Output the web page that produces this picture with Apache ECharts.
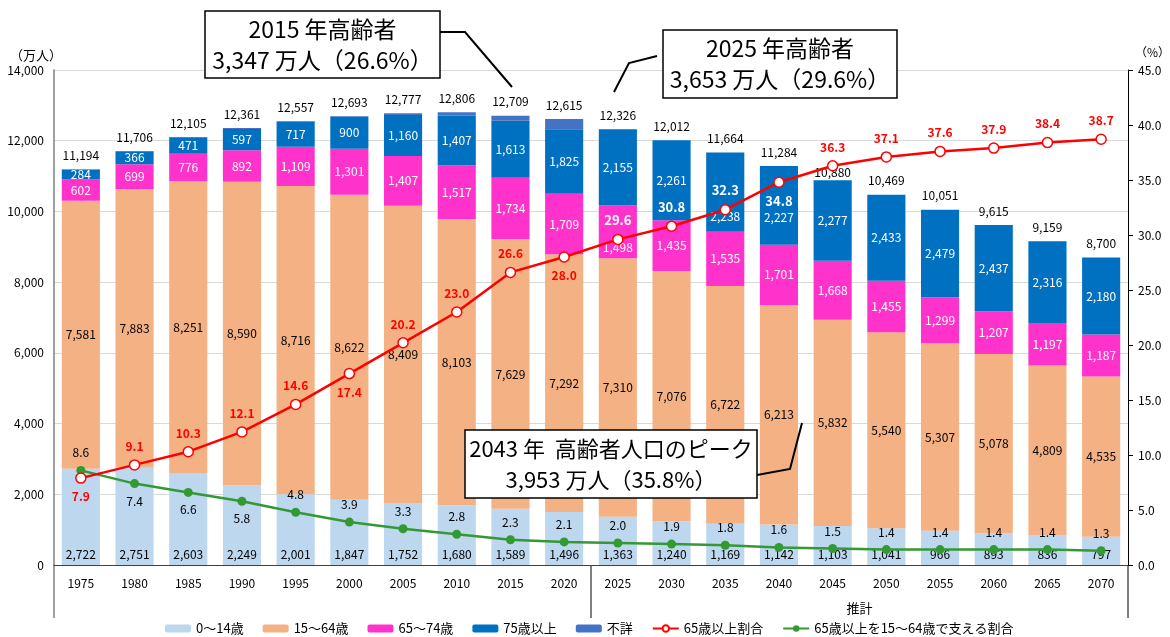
<!DOCTYPE html>
<html>
<head>
<meta charset="utf-8">
<script src="https://cdn.jsdelivr.net/npm/echarts@6/dist/echarts.min.js"></script>
<style>html,body{margin:0;padding:0;background:#fff}#c{width:1170px;height:637px}</style>
</head>
<body>
<div id="c"></div>
<script>
// ---- data ----
const years = ['1975','1980','1985','1990','1995','2000','2005','2010','2015','2020','2025','2030','2035','2040','2045','2050','2055','2060','2065','2070'];
const age0to14 = [2722,2751,2603,2249,2001,1847,1752,1680,1589,1496,1363,1240,1169,1142,1103,1041,966,893,836,797];
const age15to64 = [7581,7883,8251,8590,8716,8622,8409,8103,7629,7292,7310,7076,6722,6213,5832,5540,5307,5078,4809,4535];
const age65to74 = [602,699,776,892,1109,1301,1407,1517,1734,1709,1498,1435,1535,1701,1668,1455,1299,1207,1197,1187];
const age75plus = [284,366,471,597,717,900,1160,1407,1613,1825,2155,2261,2238,2227,2277,2433,2479,2437,2316,2180];
const unknown = [5,7,4,33,14,23,49,99,144,293,0,0,0,0,0,0,0,0,0,0];
const totals = [11194,11706,12105,12361,12557,12693,12777,12806,12709,12615,12326,12012,11664,11284,10880,10469,10051,9615,9159,8700];
const ratio65plus = [7.9,9.1,10.3,12.1,14.6,17.4,20.2,23.0,26.6,28.0,29.6,30.8,32.3,34.8,36.3,37.1,37.6,37.9,38.4,38.7];
const supportRatio = [8.6,7.4,6.6,5.8,4.8,3.9,3.3,2.8,2.3,2.1,2.0,1.9,1.8,1.6,1.5,1.4,1.4,1.4,1.4,1.3];
const seriesNames = ['0～14歳','15～64歳','65～74歳','75歳以上','不詳','65歳以上割合','65歳以上を15～64歳で支える割合'];
const projectionLabel = '推計';

// ---- label styling (not data) ----
const ratioLabelPos = ['bottom','top','top','top','top','bottom','top','top','top','bottom','top','top','top','bottom','top','top','top','top','top','top'];
const ratioLabelWhite = [10,11,12,13];
const supportLabelPos = ['top','bottom','bottom','bottom','top','top','top','top','top','top','top','top','top','top','top','top','top','top','top','top'];
const shift65to74 = {10:16};
const shift75plus = {12:24, 13:12};
const shiftTotal = {14:6};

const FONT = "'Noto Sans CJK JP', 'Noto Sans', sans-serif";
const fmt = v => Number(v).toLocaleString('en-US');
const withShift = (arr, shifts) => arr.map((v,i)=> shifts[i] ? {value:v, label:{offset:[0, shifts[i]]}} : v);

const chart = echarts.init(document.getElementById('c'), null, {renderer:'canvas'});

const barBase = {type:'bar', stack:'pop', barWidth:'71%', yAxisIndex:0};

const option = {
  animation:false,
  textStyle:{fontFamily:FONT},
  grid:{left:54, right:42, top:70, bottom:72},
  legend:{
    top:617, left:160, itemWidth:26, itemHeight:8, itemGap:19,
    textStyle:{fontSize:13, color:'#000', fontFamily:FONT},
    data:seriesNames
  },
  xAxis:{
    type:'category', data:years,
    axisTick:{show:false},
    axisLine:{lineStyle:{color:'#404040', width:1.2}},
    axisLabel:{color:'#000', fontSize:12, margin:12}
  },
  yAxis:[
    {type:'value', min:0, max:14000, interval:2000,
     axisLine:{show:true, lineStyle:{color:'#7f7f7f', width:1.5}},
     axisTick:{show:false},
     splitLine:{lineStyle:{color:'#d9d9d9', width:1}},
     axisLabel:{color:'#000', fontSize:12, margin:10, formatter:v=>fmt(v)}},
    {type:'value', min:0, max:45, interval:5, position:'right',
     axisLine:{show:true, lineStyle:{color:'#000', width:1}},
     axisTick:{show:true, inside:false, length:5, lineStyle:{color:'#000'}},
     splitLine:{show:false},
     axisLabel:{color:'#000', fontSize:12, margin:10, formatter:v=>v.toFixed(1)}}
  ],
  series:[
    Object.assign({}, barBase, {name:seriesNames[0], data:age0to14, itemStyle:{color:'#BDD7EE'},
      label:{show:true, position:'insideBottom', distance:5, color:'#000', fontSize:12, formatter:p=>fmt(p.value)}}),
    Object.assign({}, barBase, {name:seriesNames[1], data:age15to64, itemStyle:{color:'#F4B183'},
      label:{show:true, position:'inside', color:'#000', fontSize:12, formatter:p=>fmt(p.value)}}),
    Object.assign({}, barBase, {name:seriesNames[2], data:withShift(age65to74, shift65to74), itemStyle:{color:'#FF33CC'},
      label:{show:true, position:'inside', color:'#fff', fontSize:12, formatter:p=>fmt(p.value)}}),
    Object.assign({}, barBase, {name:seriesNames[3], data:withShift(age75plus, shift75plus), itemStyle:{color:'#0070C0'},
      label:{show:true, position:'inside', color:'#fff', fontSize:12, formatter:p=>fmt(p.value)}}),
    Object.assign({}, barBase, {name:seriesNames[4], data:withShift(unknown, shiftTotal), itemStyle:{color:'#4472C4'},
      label:{show:true, position:'top', distance:8, color:'#000', fontSize:12, formatter:p=>fmt(totals[p.dataIndex])}}),
    {type:'line', name:seriesNames[5], yAxisIndex:1, z:5,
     symbol:'circle', symbolSize:10,
     lineStyle:{color:'#FF0000', width:2.5},
     itemStyle:{color:'#fff', borderColor:'#FF0000', borderWidth:1.5},
     label:{show:true, fontSize:12, fontWeight:'bold', distance:7, formatter:p=>p.value.toFixed(1)},
     data:ratio65plus.map((v,i)=>({value:v, label:{position:ratioLabelPos[i], color: ratioLabelWhite.includes(i)?'#fff':'#FF0000', fontSize: ratioLabelWhite.includes(i)?13:12}}))
    },
    {type:'line', name:seriesNames[6], yAxisIndex:1, z:4,
     symbol:'circle', symbolSize:9,
     lineStyle:{color:'#339933', width:2.5},
     itemStyle:{color:'#339933'},
     label:{show:true, fontSize:12, color:'#000', distance:7, formatter:p=>p.value.toFixed(1)},
     data:supportRatio.map((v,i)=>({value:v, label:{position:supportLabelPos[i]}}))
    }
  ]
};
chart.setOption(option);

// ---- decorations (axis extensions, separator, annotations) ----
const yBase = chart.convertToPixel({yAxisIndex:0}, 0);
const xL = chart.convertToPixel({xAxisIndex:0}, years[0]);
const xR = chart.convertToPixel({xAxisIndex:0}, years[years.length-1]);
const band = (xR - xL) / (years.length - 1);
const leftX = xL - band/2, rightX = xR + band/2;
const sepX = (chart.convertToPixel({xAxisIndex:0}, '2020') + chart.convertToPixel({xAxisIndex:0}, '2025')) / 2;
const projCenter = (chart.convertToPixel({xAxisIndex:0}, '2025') + xR) / 2;
const yExt = yBase + 53;

function box(x, y, w, h, lines, fs) {
  return [
    {type:'rect', z:200, shape:{x:x, y:y, width:w, height:h}, style:{fill:'#fff', stroke:'#000', lineWidth:1.5}},
    {type:'text', z:201, x:x + w/2, y:y + h/2, style:{text:lines.join('\n'), font:`${fs}px ${FONT}`, fill:'#000', align:'center', verticalAlign:'middle', lineHeight:31}}
  ];
}

chart.setOption({
  graphic:[
    {type:'line', shape:{x1:leftX, y1:yBase, x2:leftX, y2:yExt}, style:{stroke:'#7f7f7f', lineWidth:1.5}},
    {type:'line', shape:{x1:rightX, y1:yBase, x2:rightX, y2:yExt}, style:{stroke:'#000', lineWidth:1}},
    {type:'line', shape:{x1:sepX, y1:yBase, x2:sepX, y2:yExt}, style:{stroke:'#000', lineWidth:1}},
    {type:'text', x:projCenter, y:yBase + 43, style:{text:projectionLabel, font:`13px ${FONT}`, fill:'#000', align:'center', verticalAlign:'middle'}},
    {type:'text', x:10, y:55, style:{text:'（万人）', font:`13px ${FONT}`, fill:'#000', align:'left', verticalAlign:'middle'}},
    {type:'text', x:1135, y:52, style:{text:'（%）', font:`12px ${FONT}`, fill:'#000', align:'left', verticalAlign:'middle'}},
    ...box(205, 11, 235, 67, ['2015 年高齢者', '3,347 万人（26.6%）'], 23),
    {type:'polyline', z:200, shape:{points:[[440,32],[465,32],[512,87]]}, style:{stroke:'#000', lineWidth:2, fill:null}},
    ...box(663, 30, 234, 68, ['2025 年高齢者', '3,653 万人（29.6%）'], 23),
    {type:'polyline', z:200, shape:{points:[[657,56],[629,63],[614,92]]}, style:{stroke:'#000', lineWidth:2, fill:null}},
    ...box(465, 430, 292, 68, ['2043 年  高齢者人口のピーク', '3,953 万人（35.8%）'], 22),
    {type:'polyline', z:200, shape:{points:[[757,475],[790,469],[802,423]]}, style:{stroke:'#000', lineWidth:2, fill:null}}
  ]
});
</script>
</body>
</html>
